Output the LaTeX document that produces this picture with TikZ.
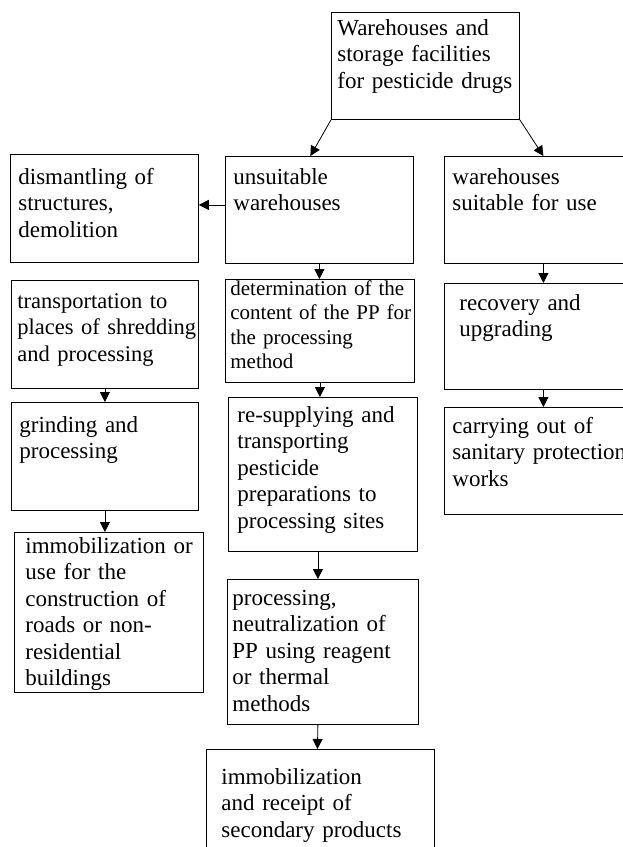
\documentclass[tikz,border=0pt]{standalone}
\usepackage{fontspec}
\setmainfont{Liberation Serif}
\usetikzlibrary{arrows.meta}
\newcommand{\stagetext}[1]{\begin{tabular}[t]{@{}l@{}}#1\end{tabular}}

\begin{document}
\begin{tikzpicture}[x=1pt,y=-1pt,line width=0.8pt]

	\tikzstyle{stage}=[draw,anchor=north west,align=left,inner ysep=0pt,font=\fontsize{23}{26.5}\selectfont]
	\tikzstyle{flow}=[-{Triangle[length=10pt,width=10pt]}]
	\useasboundingbox (0,0) rectangle (622,847);

	% top
	\node[stage,inner xsep=6pt,text width=176pt,text height=23pt,text depth=84pt] (storage) at (331,12) {\stagetext{Warehouses and\\storage facilities\\for pesticide drugs}};

	% second row
	\node[stage,inner xsep=8pt,text width=172pt,text height=30pt,text depth=78pt] (dismantle) at (10,154) {\stagetext{dismantling of\\structures,\\demolition}};
	\node[stage,inner xsep=8pt,text width=172pt,text height=28pt,text depth=79pt] (unsuitable) at (225,156) {\stagetext{unsuitable\\warehouses}};
	\node[stage,inner xsep=8pt,text width=182pt,text height=28pt,text depth=79pt] (suitable) at (444,156) {\stagetext{warehouses\\suitable for use}};

	% third row
	\node[stage,inner xsep=6pt,text width=175pt,text height=28pt,text depth=80pt,font=\fontsize{22.5}{26.5}\selectfont] (transport) at (11,280) {\stagetext{transportation to\\places of shredding\\and processing}};
	\node[stage,inner xsep=5pt,text width=179pt,text height=16pt,text depth=87pt,font=\fontsize{21}{24.5}\selectfont] (content) at (225,279) {\stagetext{determination of the\\content of the PP for\\the processing\\method}};
	\node[stage,inner xsep=15pt,text width=168pt,text height=27pt,text depth=79pt] (recovery) at (444,283) {\stagetext{recovery and\\upgrading}};

	% fourth row
	\node[stage,inner xsep=8pt,text width=171pt,text height=30pt,text depth=78pt] (grinding) at (11,402) {\stagetext{grinding and\\processing}};
	\node[stage,inner xsep=9pt,text width=171pt,text height=25pt,text depth=129pt] (resupply) at (228,397) {\stagetext{re-supplying and\\transporting\\pesticide\\preparations to\\processing sites}};
	\node[stage,inner xsep=8pt,text width=182pt,text height=26pt,text depth=81pt] (sanitary) at (444,407) {\stagetext{carrying out of\\sanitary protection\\works}};

	% lower boxes
	\node[stage,inner xsep=11pt,text width=167pt,text height=21pt,text depth=139pt] (roads) at (14,532) {\stagetext{immobilization or\\use for the\\construction of\\roads or non-\\residential\\buildings}};
	\node[stage,inner xsep=5pt,text width=181pt,text height=26pt,text depth=119pt] (neutral) at (227,579) {\stagetext{processing,\\neutralization of\\PP using reagent\\or thermal\\methods}};
	\node[stage,inner xsep=15pt,text width=198pt,text height=35pt,text depth=95pt] (secondary) at (206,749) {\stagetext{immobilization\\and receipt of\\secondary products}};

	% arrows
	\draw[flow] (storage.south west) -- ([xshift=-9pt]unsuitable.north);
	\draw[flow] (storage.south east) -- (suitable.north);
	\draw[flow] ([yshift=5pt]unsuitable.west) -- ([yshift=5pt]unsuitable.west -| dismantle.east);
	\draw[flow] (unsuitable.south) -- (unsuitable.south |- content.north);
	\draw[flow] (suitable.south) -- (recovery.north);
	\draw[flow] (transport.south) -- (grinding.north);
	\draw[flow] (content.south) -- (content.south |- resupply.north);
	\draw[flow] (recovery.south) -- (sanitary.north);
	\draw[flow] (grinding.south) -- (grinding.south |- roads.north);
	\draw[flow] ([xshift=-5pt]resupply.south) -- ([xshift=-5pt]neutral.north);
	\draw[flow] ([xshift=-5pt]neutral.south) -- ([xshift=-3pt]secondary.north);
\end{tikzpicture}
\end{document}
